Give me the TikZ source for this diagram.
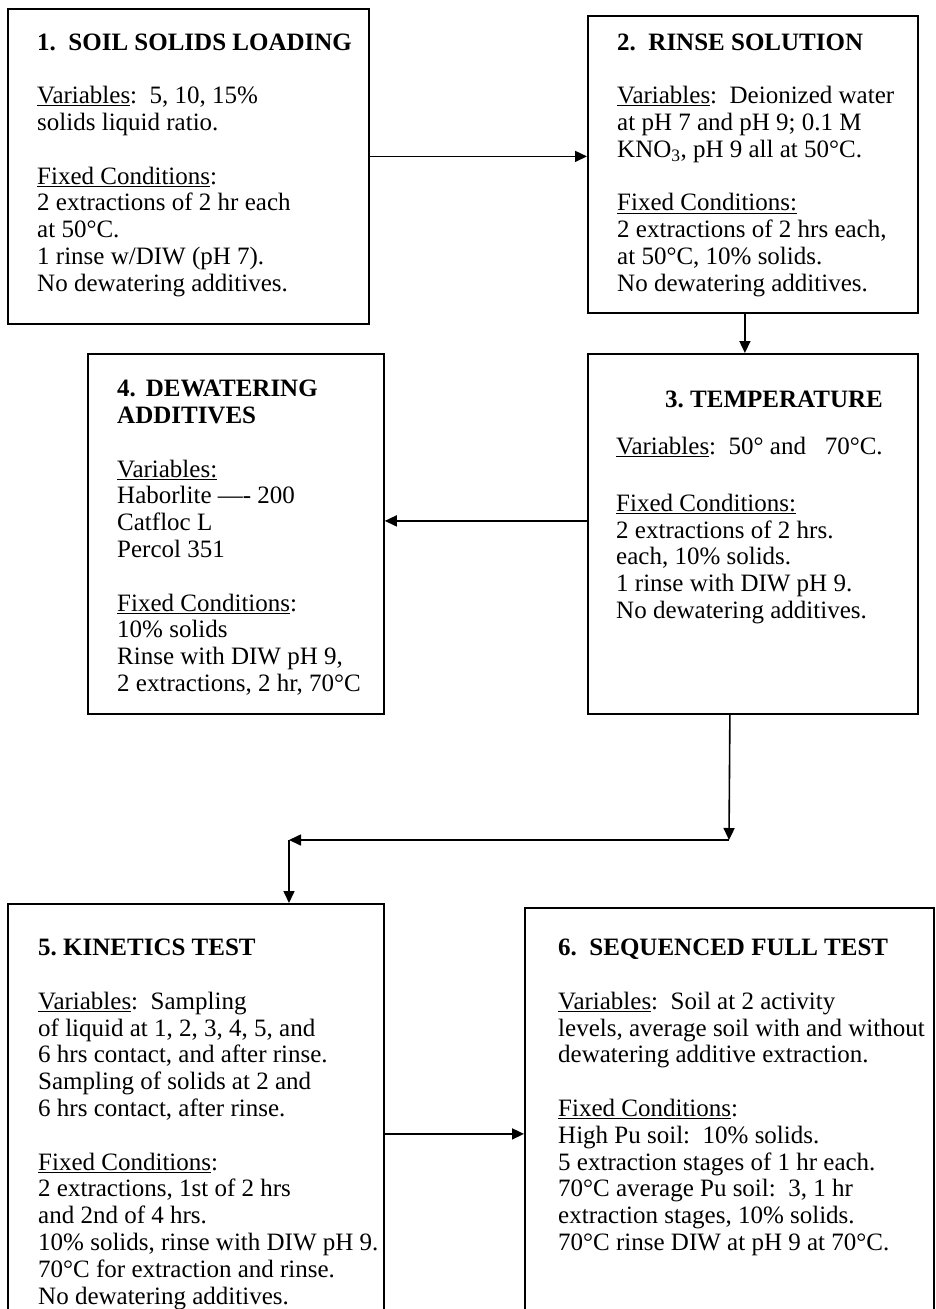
\documentclass[tikz,border=0pt]{standalone}
\usepackage{fontspec}
\setmainfont{Liberation Serif}
\usetikzlibrary{positioning,arrows.meta}
\newcommand{\emptyrow}{\\[26.8pt]}

\begin{document}
\begin{tikzpicture}[x=1pt,y=1pt,>={Triangle[length=12pt,width=11pt]},
		stepbox/.style={draw,line width=1.8pt,anchor=north west,inner sep=0pt},
		txt/.style={align=left,inner sep=0pt,font=\fontsize{25}{26.8}\selectfont},
		flow/.style={->,line width=1.6pt}]
		\useasboundingbox (0,0) rectangle (935,-1309);
		\clip (0,0) rectangle (935,-1309);
		% boxes
		\node[stepbox,minimum width=361pt,minimum height=315pt] (s1) at (7,-8) {};
		\node[stepbox,minimum width=330pt,minimum height=297pt] (s2) at (587,-15) {};
		\node[stepbox,minimum width=330pt,minimum height=360pt] (s3) at (587,-353) {};
		\node[stepbox,minimum width=296pt,minimum height=360pt] (s4) at (87,-353) {};
		\node[stepbox,minimum width=376pt,minimum height=430pt] (s5) at (7,-903) {};
		\node[stepbox,minimum width=409pt,minimum height=430pt] (s6) at (524,-907) {};
		% texts
		\node[txt,below right=25.4pt and 30pt of s1.north west] (t1) {%
			\textbf{1.\hspace{0.5em}SOIL SOLIDS LOADING}\emptyrow
			\underline{Variables}:\ \ 5, 10, 15\%\\
			solids liquid ratio.\emptyrow
			\underline{Fixed Conditions}:\\
			2 extractions of 2 hr each\\
			at 50°C.\\
			1 rinse w/DIW (pH 7).\\
			No dewatering additives.};
		\node[txt,below right=18.4pt and 30pt of s2.north west] (t2) {%
			\textbf{2.\hspace{0.5em}RINSE SOLUTION}\emptyrow
			\underline{Variables}:\ \ Deionized water\\
			at pH 7 and pH 9; 0.1 M\\
			KNO\textsubscript{3}, pH 9 all at 50°C.\emptyrow
			\underline{Fixed Conditions:}\\
			2 extractions of 2 hrs each,\\
			at 50°C, 10\% solids.\\
			No dewatering additives.};
		\node[txt,below right=38pt and 29pt of s3.north west] (t3) {%
			\hspace*{49pt}\textbf{3.\ TEMPERATURE}\\[20pt]
			\underline{Variables}:\ \ 50° and\ \ \ 70°C.\\[30pt]
			\underline{Fixed Conditions:}\\
			2 extractions of 2 hrs.\\
			each, 10\% solids.\\
			1 rinse with DIW pH 9.\\
			No dewatering additives.};
		\node[txt,below right=27pt and 30pt of s4.north west] (t4) {%
			\textbf{4.\hspace{0.4em}DEWATERING}\\
			\textbf{ADDITIVES}\emptyrow
			\underline{Variables:}\\
			Haborlite —- 200\\
			Catfloc L\\
			Percol 351\emptyrow
			\underline{Fixed Conditions}:\\
			10\% solids\\
			Rinse with DIW pH 9,\\
			2 extractions, 2 hr, 70°C};
		\node[txt,below right=36pt and 31pt of s5.north west] (t5) {%
			\textbf{5.\ KINETICS TEST}\emptyrow
			\underline{Variables}:\ \ Sampling\\
			of liquid at 1, 2, 3, 4, 5, and\\
			6 hrs contact, and after rinse.\\
			Sampling of solids at 2 and\\
			6 hrs contact, after rinse.\emptyrow
			\underline{Fixed Conditions}:\\
			2 extractions, 1st of 2 hrs\\
			and 2nd of 4 hrs.\\
			10\% solids, rinse with DIW pH 9.\\
			70°C for extraction and rinse.\\
			No dewatering additives.};
		\node[txt,below right=32pt and 34pt of s6.north west] (t6) {%
			\textbf{6.\hspace{0.5em}SEQUENCED FULL TEST}\emptyrow
			\underline{Variables}:\ \ Soil at 2 activity\\
			levels, average soil with and without\\
			dewatering additive extraction.\emptyrow
			\underline{Fixed Conditions}:\\
			High Pu soil:\ \ 10\% solids.\\
			5 extraction stages of 1 hr each.\\
			70°C average Pu soil:\ \ 3, 1 hr\\
			extraction stages, 10\% solids.\\
			70°C rinse DIW at pH 9 at 70°C.};
		% connectors
		\coordinate (bendR) at (729,-840);
		\coordinate (bendL) at (289,-840);
		\draw[flow] ([yshift=10pt]s1.east) -- ([yshift=10pt]s1.east -| s2.west);
		\draw[flow] ([xshift=-8pt]s2.south) -- ([xshift=-8pt]s2.south |- s3.north);
		\draw[flow] ([yshift=13pt]s3.west) -- ([yshift=13pt]s3.west -| s4.east);
		\draw[flow] ([xshift=-23pt]s3.south) -- (bendR);
		\draw[flow] (bendR) -- (bendL);
		\draw[flow] (bendL) -- (bendL |- s5.north);
		\draw[flow] ([yshift=-15pt]s5.east) -- ([yshift=-15pt]s5.east -| s6.west);
	\end{tikzpicture}
\end{document}
